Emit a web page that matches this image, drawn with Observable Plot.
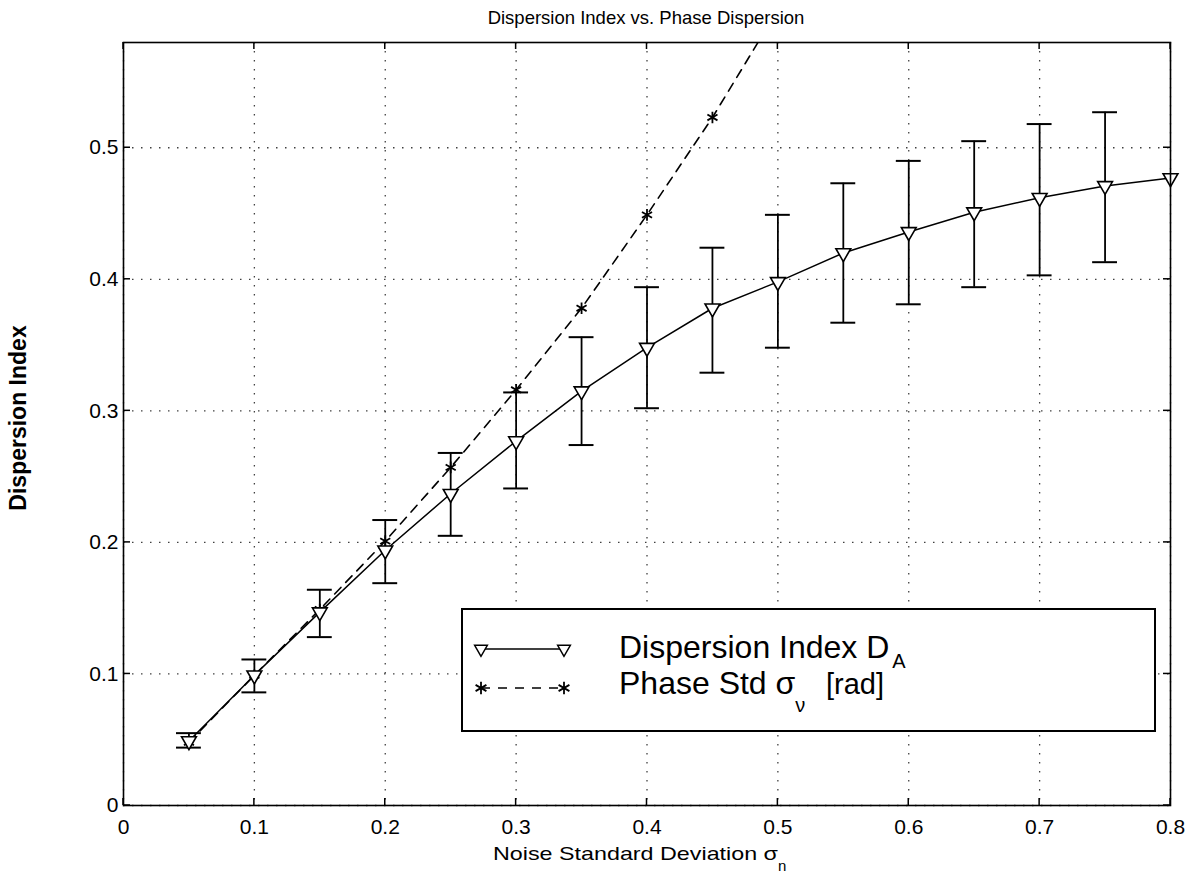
<!DOCTYPE html>
<html>
<head>
<meta charset="utf-8">
<script src="https://cdn.jsdelivr.net/npm/d3@7"></script>
<script src="https://cdn.jsdelivr.net/npm/@observablehq/plot@0.6"></script>
<style>
  html, body { margin: 0; padding: 0; background: #fff; }
  #chart svg { display: block; }
</style>
</head>
<body>
<div id="chart"></div>
<script>
// ---- data ----
const noiseStd = [0.05, 0.10, 0.15, 0.20, 0.25, 0.30, 0.35, 0.40, 0.45, 0.50, 0.55, 0.60, 0.65, 0.70, 0.75, 0.80];
const dispersionIndex = [0.049, 0.099, 0.147, 0.194, 0.237, 0.277, 0.315, 0.348, 0.378, 0.398, 0.420, 0.436, 0.451, 0.462, 0.471, 0.477];
const errLow  = [0.044, 0.086, 0.128, 0.169, 0.205, 0.241, 0.274, 0.302, 0.329, 0.348, 0.367, 0.381, 0.394, 0.403, 0.413, null];
const errHigh = [0.055, 0.111, 0.164, 0.217, 0.268, 0.314, 0.356, 0.394, 0.424, 0.449, 0.473, 0.490, 0.505, 0.518, 0.527, null];
const phaseNoise = [0.05, 0.10, 0.15, 0.20, 0.25, 0.30, 0.35, 0.40, 0.45, 0.50];
const phaseStd   = [0.048, 0.099, 0.149, 0.201, 0.257, 0.316, 0.378, 0.449, 0.523, 0.605];
const xTicks = [0, 0.1, 0.2, 0.3, 0.4, 0.5, 0.6, 0.7, 0.8];
const yTicks = [0, 0.1, 0.2, 0.3, 0.4, 0.5];

const titleText = "Dispersion Index vs. Phase Dispersion";
const xLabel = "Noise Standard Deviation σ";
const xLabelSub = "n";
const yLabel = "Dispersion Index";
const legendItems = [
  {label: "Dispersion Index D", sub: "A", after: "", symbol: "triangle", dash: null},
  {label: "Phase Std σ", sub: "ν", after: "[rad]", symbol: "asterisk", dash: "9,8"}
];

const daData = noiseStd.map((x, i) => ({x, y: dispersionIndex[i], lo: errLow[i], hi: errHigh[i]}));
const errData = daData.filter(d => d.lo != null && d.hi != null);
const phData = phaseNoise.map((x, i) => ({x, y: phaseStd[i]}));

const W = 1198, H = 875;
const FONT = "'Liberation Sans', Arial, Helvetica, sans-serif";
const capHalf = 0.0095;

const chart = Plot.plot({
  width: W, height: H,
  marginLeft: 123, marginRight: 28, marginTop: 42, marginBottom: 70,
  style: {fontFamily: FONT, fontSize: "21px", background: "#fff", color: "#000"},
  x: {domain: [0, 0.8], ticks: xTicks},
  y: {domain: [0, 0.58], ticks: yTicks},
  marks: [
    Plot.gridX(xTicks, {stroke: "#000", strokeOpacity: 0.75, strokeDasharray: "1.5,7.5", strokeWidth: 1.3}),
    Plot.gridY(yTicks, {stroke: "#000", strokeOpacity: 0.75, strokeDasharray: "1.5,7.5", strokeWidth: 1.3}),
    Plot.axisX(xTicks, {tickSize: 0, tickPadding: 14, fontSize: 21, label: null, tickFormat: d => String(d)}),
    Plot.axisY(yTicks, {tickSize: 0, tickPadding: 5, fontSize: 21, label: null, tickFormat: d => String(d)}),
    // error bars
    Plot.ruleX(errData, {x: "x", y1: "lo", y2: "hi", stroke: "#000", strokeWidth: 1.8}),
    Plot.ruleY(errData, {y: "lo", x1: d => d.x - capHalf, x2: d => d.x + capHalf, stroke: "#000", strokeWidth: 2}),
    Plot.ruleY(errData, {y: "hi", x1: d => d.x - capHalf, x2: d => d.x + capHalf, stroke: "#000", strokeWidth: 2}),
    // phase std (dashed)
    Plot.line(phData, {x: "x", y: "y", stroke: "#000", strokeWidth: 1.6, strokeDasharray: "9,7", clip: true}),
    Plot.dot(phData, {x: "x", y: "y", symbol: "asterisk", r: 5.5, stroke: "#000", strokeWidth: 1.8, clip: true}),
    // dispersion index (solid)
    Plot.line(daData, {x: "x", y: "y", stroke: "#000", strokeWidth: 1.5}),
    Plot.dot(daData, {x: "x", y: "y", symbol: "triangle", rotate: 180, r: 5.5, fill: "#fff", stroke: "#000", strokeWidth: 1.6}),
    Plot.frame({stroke: "#000", strokeWidth: 1.6})
  ]
});

document.getElementById("chart").appendChild(chart);

// ---- decorations drawn with the plot's own scales ----
const svg = d3.select(chart);
const sx = chart.scale("x"), sy = chart.scale("y");
const x0 = sx.apply(0), x1 = sx.apply(0.8);
const y0 = sy.apply(0), y1 = sy.apply(0.58);
const tickLen = 7;
const tg = svg.append("g").attr("stroke", "#000").attr("stroke-width", 1.5);
xTicks.forEach(t => {
  const px = sx.apply(t);
  tg.append("line").attr("x1", px).attr("x2", px).attr("y1", y0).attr("y2", y0 - tickLen);
  tg.append("line").attr("x1", px).attr("x2", px).attr("y1", y1).attr("y2", y1 + tickLen);
});
yTicks.forEach(t => {
  const py = sy.apply(t);
  tg.append("line").attr("x1", x0).attr("x2", x0 + tickLen).attr("y1", py).attr("y2", py);
  tg.append("line").attr("x1", x1).attr("x2", x1 - tickLen).attr("y1", py).attr("y2", py);
});

// title
svg.append("text").attr("x", 646).attr("y", 24)
  .attr("text-anchor", "middle").attr("font-family", FONT).attr("font-size", 18.5)
  .attr("fill", "#000").text(titleText);

// x label with subscript
const xl = svg.append("text").attr("x", 493).attr("y", 860)
  .attr("text-anchor", "start").attr("font-family", FONT).attr("font-size", 19).attr("fill", "#000");
xl.append("tspan").attr("textLength", 285).attr("lengthAdjust", "spacingAndGlyphs").text(xLabel);
xl.append("tspan").attr("dy", 11).attr("font-size", 15).text(xLabelSub);

// y label
svg.append("text").attr("transform", `translate(26,418) rotate(-90)`)
  .attr("text-anchor", "middle").attr("font-family", FONT).attr("font-size", 23)
  .attr("font-weight", "bold").attr("fill", "#000").text(yLabel);

// legend box
const lg = svg.append("g");
const lx = 462, ly = 609, lw = 693, lh = 122;
lg.append("rect").attr("x", lx).attr("y", ly).attr("width", lw).attr("height", lh)
  .attr("fill", "#fff").attr("stroke", "#000").attr("stroke-width", 2);
legendItems.forEach((it, i) => {
  const cy = ly + 40 + i * 39;
  const ax = lx + 19, bx = lx + 102;
  lg.append("line").attr("x1", ax).attr("x2", bx).attr("y1", cy).attr("y2", cy)
    .attr("stroke", "#000").attr("stroke-width", 1.5)
    .attr("stroke-dasharray", it.dash);
  const isTri = it.symbol === "triangle";
  const sym = d3.symbol(isTri ? d3.symbolTriangle : d3.symbolAsterisk, isTri ? 70 : 110)();
  [ax, bx].forEach(px => {
    lg.append("path").attr("d", sym)
      .attr("transform", `translate(${px},${cy})` + (isTri ? " rotate(180)" : ""))
      .attr("fill", isTri ? "#fff" : "none")
      .attr("stroke", "#000").attr("stroke-width", isTri ? 1.5 : 1.8);
  });
  const t = lg.append("text").attr("x", lx + 157).attr("y", cy + (isTri ? 9 : 6))
    .attr("text-anchor", "start")
    .attr("font-family", FONT).attr("font-size", 32).attr("fill", "#000");
  t.append("tspan").text(it.label);
  t.append("tspan").attr("dy", isTri ? 10 : 18).attr("dx", isTri ? 3 : 0).attr("font-size", 20).text(it.sub);
  if (it.after) t.append("tspan").attr("x", 826).attr("dy", -18).attr("font-size", 29).text(it.after);
});
</script>
</body>
</html>
